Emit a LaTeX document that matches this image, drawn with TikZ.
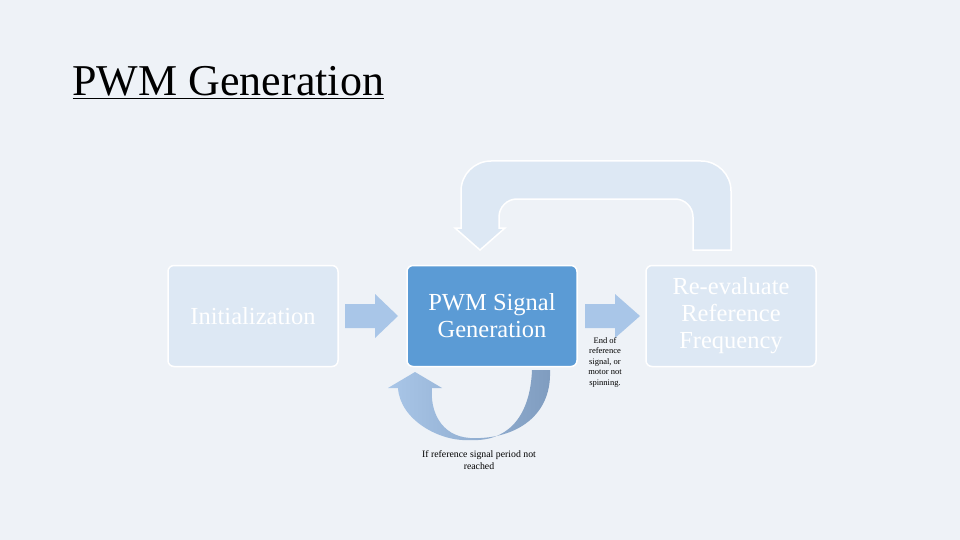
\documentclass[tikz,border=0pt]{standalone}
\usepackage{fontspec}
\setmainfont{Liberation Serif}
\begin{document}
\begin{tikzpicture}[x=1pt,y=-1pt,
  box/.style={draw=white,line width=1.5pt,rounded corners=6pt,minimum width=170pt,minimum height=101pt,inner sep=0pt,font=\fontsize{24.5}{27}\selectfont,align=center},
  blk/.style={fill=blockblue,draw=none}]
\definecolor{bg}{HTML}{EEF2F7}
\definecolor{light}{HTML}{DDE8F4}
\definecolor{mid}{HTML}{5B9BD5}
\definecolor{blockblue}{HTML}{A9C6E8}
\definecolor{dark}{HTML}{7F9CBF}
\fill[bg] (0,0) rectangle (960,540);
\useasboundingbox (0,0) rectangle (960,540);
\node[anchor=base west,font=\fontsize{44}{48}\selectfont] (title) at (69,96) {\underline{PWM Generation}};
% top loop
\draw[fill=light,draw=white,line width=1.5pt,rounded corners=18pt]
 (693,250) -- (693,199) -- (499,199) [sharp corners]-- (499,228) -- (505,228) -- (480,250) -- (455,228) -- (461,228) [rounded corners=30pt]-- (461,161) -- (731,161) [sharp corners]-- (731,250) -- cycle;
\node[box,fill=light,text=white] (init) at (253,316) {Initialization};
\node[box,fill=mid,text=white] (pwm) at (492,316) {PWM Signal\\Generation};
\node[box,fill=light,text=white] (reev) at (731,316) {Re-evaluate\\Reference\\Frequency};
% block arrows
\fill[blk] (345,304) -- (375,304) -- (375,294) -- (398,316) -- (375,338) -- (375,328) -- (345,328) -- cycle;
\fill[blk] (585,304) -- (615,304) -- (615,294) -- (640,316) -- (615,338) -- (615,328) -- (585,328) -- cycle;
% bottom loop
\shade[left color=blockblue,right color=dark]
 (550,370) .. controls (552,420) and (510,440) .. (470,438)
 .. controls (440,436) and (430,410) .. (432,388) -- (442,388) -- (415,372) -- (388,388) -- (398,388)
 .. controls (400,420) and (440,442) .. (470,440)
 .. controls (505,442) and (530,420) .. (532,370) -- cycle;
\node[font=\fontsize{8.5}{10.5}\selectfont,align=center] (lbl1) at (605,362) {End of\\reference\\signal, or\\motor not\\spinning.};
\node[font=\fontsize{9.8}{11.5}\selectfont,align=center] (lbl2) at (479,460) {If reference signal period not\\reached};
\end{tikzpicture}
\end{document}
